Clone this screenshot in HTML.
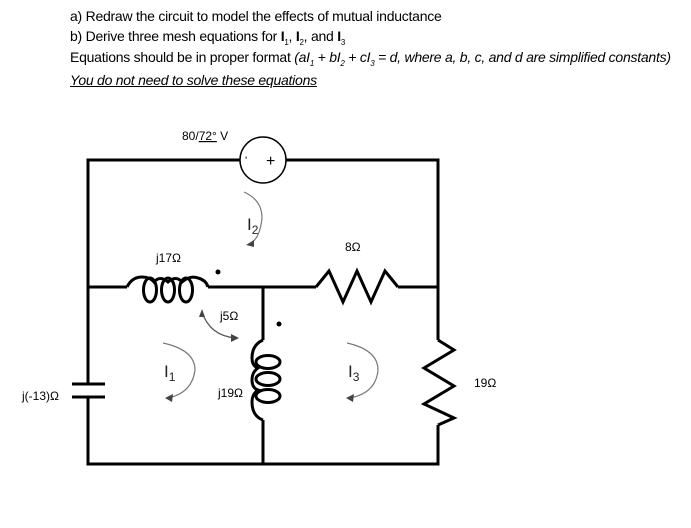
<!DOCTYPE html>
<html><head><meta charset="utf-8"><style>
body{margin:0;background:#fff;width:691px;height:528px;overflow:hidden;font-family:"Liberation Sans",sans-serif;}
.t{position:absolute;left:70px;font-size:14px;color:#000;white-space:nowrap;letter-spacing:-0.25px}
sub{font-size:8px}
</style></head><body>
<div class="t" style="top:8px">a) Redraw the circuit to model the effects of mutual inductance</div>
<div class="t" style="top:28px">b) Derive three mesh equations for <b>I</b><sub>1</sub>, <b>I</b><sub>2</sub>, and <b>I</b><sub>3</sub></div>
<div class="t" style="top:49px">Equations should be in proper format <i>(aI<sub>1</sub> + bI<sub>2</sub> + cI<sub>3</sub> = d, where a, b, c, and d are simplified constants)</i></div>
<div class="t" style="top:72px;text-decoration:underline"><i>You do not need to solve these equations</i></div>
<svg width="691" height="528" style="position:absolute;left:0;top:0" font-family="Liberation Sans, sans-serif">
<g fill="none" stroke="#000" stroke-width="3">
<path d="M240,160 H88 V384 M88,397 V464 H438 V425 M438,340 V160 H286"/>
<path d="M88,287 H127 M208,287 H316 M398,287 H438"/>
<path d="M263,287 V340 M263,420 V464"/>
<path d="M72,384 H105 M72,397 H105"/>
<path d="M316,287 L329,271 L343,302 L357,271 L371,302 L385,271 L398,287" stroke-linejoin="miter"/>
<path d="M438,340 L454,350 L424,368 L454,386 L424,404 L454,418 L438,425"/>
<path d="M127,287 Q132,277 142,277 Q150,277 154,282 Q160,275 168,282 Q176,275 182,282 Q190,275 198,278 Q206,280 208,287"/>
<ellipse cx="150" cy="290" rx="6.5" ry="12"/>
<ellipse cx="168" cy="290" rx="6.5" ry="12"/>
<ellipse cx="186" cy="290" rx="6.5" ry="12"/>
<path d="M263,340 Q252,345 252,358 Q252,366 258,368 Q252,372 252,380 Q252,388 258,390 Q252,394 252,402 Q252,416 263,420"/>
<ellipse cx="268" cy="362" rx="12" ry="6.5"/>
<ellipse cx="268" cy="379" rx="12" ry="6.5"/>
<ellipse cx="268" cy="396" rx="12" ry="6.5"/>
</g>
<circle cx="263" cy="160" r="23" fill="#fff" stroke="#000" stroke-width="1.5"/>
<text x="245" y="164" font-size="11">'</text>
<text x="266" y="166" font-size="16">+</text>
<circle cx="218" cy="272" r="2.5"/><circle cx="279" cy="324" r="2.5"/>
<g fill="none" stroke="#777" stroke-width="1.2">
<path d="M244,192 Q262,200 262,218 Q260,238 250,244"/>
<path d="M163,343 Q195,350 195,370 Q192,393 168,398"/>
<path d="M347,343 Q378,350 378,370 Q376,393 350,398"/>
<path d="M202,312 Q210,336 236,338" stroke="#555"/>
</g>
<path d="M246,245 l8,-5 l0,7z M165,398 l8,-4 l-1,8z M346,398 l8,-4 l-1,8z M202,309 l-3,8 l6,0z M239,338 l-8,-4 l0,8z" fill="#444"/>
<g font-size="12" fill="#000">
<text x="182" y="140">80/<tspan text-decoration="underline">72°</tspan> V</text>
<text x="156" y="262">j17Ω</text>
<text x="345" y="251">8Ω</text>
<text x="220" y="320">j5Ω</text>
<text x="218" y="397">j19Ω</text>
<text x="22" y="400">j(-13)Ω</text>
<text x="474" y="387">19Ω</text>
</g>
<g font-size="17" fill="#222"><text x="247" y="230">I<tspan font-size="12" dy="4">2</tspan></text>
<text x="164" y="377">I<tspan font-size="12" dy="4">1</tspan></text>
<text x="348" y="377">I<tspan font-size="12" dy="4">3</tspan></text></g>
</svg>
</body></html>
